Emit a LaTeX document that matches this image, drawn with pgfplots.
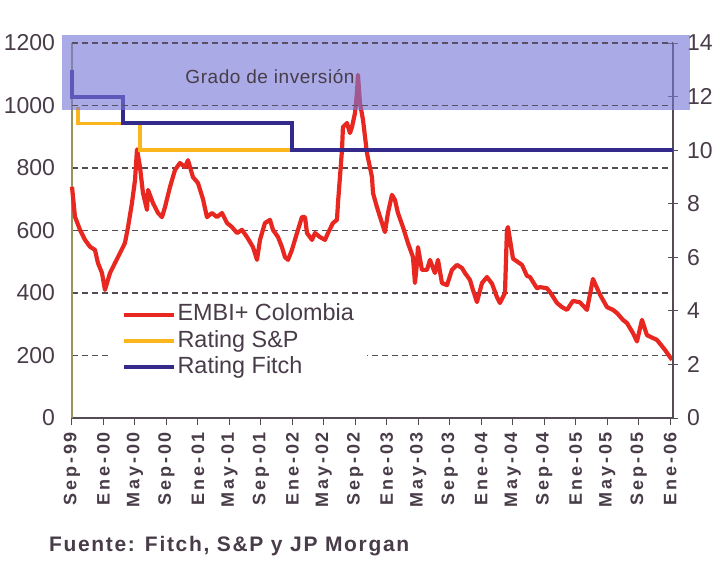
\documentclass[border=0pt]{standalone}
\usepackage{pgfplots}
\pgfplotsset{compat=1.18}
\usepackage{fontspec}
\setmainfont{Liberation Sans}
\definecolor{embired}{RGB}{232,40,32}
\definecolor{spgold}{RGB}{250,182,28}
\definecolor{fitchblue}{RGB}{52,42,140}
\definecolor{bandblue}{RGB}{118,118,215}
\definecolor{txt}{RGB}{72,60,72}
\definecolor{gridc}{RGB}{85,75,85}
\definecolor{axolive}{RGB}{150,150,90}

\begin{document}
\begin{tikzpicture}
\begin{axis}[
  scale only axis, width=300.5pt, height=187.5pt,
  xmin=0, xmax=76.37, ymin=0, ymax=1200,
  axis x line*=bottom, axis y line*=left,
  x axis line style={draw=gridc, line width=0.6pt},
  y axis line style={draw=axolive, line width=0.6pt},
  xtick={0,4,...,76},
  xticklabels={Sep-99,Ene-00,May-00,Sep-00,Ene-01,May-01,Sep-01,Ene-02,May-02,Sep-02,Ene-03,May-03,Sep-03,Ene-04,May-04,Sep-04,Ene-05,May-05,Sep-05,Ene-06},
  xtick align=outside,
  x tick style={draw=gridc, line width=0.5pt},
  major tick length=3.5pt,
  xticklabel style={rotate=90, anchor=east, text=txt, font=\fontsize{9}{9}\selectfont\bfseries\addfontfeature{LetterSpace=16}},
  ytick={0,200,...,1200},
  y tick style={draw=none},
  yticklabel style={font=\fontsize{11.5}{12}\selectfont, text=txt, xshift=-5pt},
  ymajorgrids,
  major grid style={draw=gridc, line width=0.6pt, dash pattern=on 3pt off 2pt},
  /pgf/number format/assume math mode=true,
  /pgf/number format/1000 sep={},
  clip=false,
  legend cell align=left,
  legend style={draw=none, fill=white, at={(axis cs:4.83,384)}, anchor=north west,
    font=\fontsize{11.7}{13}\selectfont, text=txt, inner xsep=6pt, inner ysep=2pt,
    nodes={inner sep=0.6pt, text height=8.5pt, text depth=2.5pt}, row sep=1pt},
  legend image code/.code={\draw[#1, line width=2pt] (0pt,0pt) -- (25pt,0pt);},
]
\addplot[embired, line width=2.1pt, line join=round] coordinates {
(0,740) (0.38,644) (1.02,602) (1.65,570) (2.29,548) (2.92,538) (3.30,496) (3.81,464)
(4.19,410) (4.83,464) (5.46,496) (6.10,528) (6.73,560) (7.12,611) (7.62,688) (8.01,762)
(8.26,860) (8.64,803) (9.02,720) (9.53,666) (9.66,730) (10.29,688) (10.93,656) (11.44,643)
(11.82,675) (12.45,739) (13.09,794) (13.72,816) (14.36,803) (14.74,825) (15.37,771) (16.01,752)
(16.65,700) (17.15,643) (17.79,656) (18.42,643) (19.06,656) (19.70,624) (20.33,611) (20.97,592)
(21.60,602) (22.24,579) (22.62,563) (23.00,547) (23.51,506) (23.89,570) (24.52,624) (25.16,634)
(25.54,602) (26.18,579) (26.68,547) (27.06,515) (27.45,506) (27.95,538) (28.59,592) (29.22,643)
(29.61,643) (29.86,592) (30.50,570) (30.88,592) (31.51,579) (32.15,570) (32.53,592) (33.16,624)
(33.67,634) (33.80,688) (34.05,771) (34.31,858) (34.43,931) (34.94,944) (35.32,912) (35.58,931)
(35.96,976) (36.21,1040) (36.34,1098) (36.59,1008) (36.98,954) (37.48,848) (38.12,771) (38.25,720)
(38.75,675) (39.39,624) (39.77,595) (40.15,656) (40.66,714) (41.04,698) (41.42,656) (42.06,611)
(42.69,560) (43.33,515) (43.58,432) (43.84,496) (43.96,547) (44.47,474) (45.11,474) (45.49,506)
(46.12,464) (46.51,506) (47.01,432) (47.65,425) (48.28,474) (48.92,490) (49.56,480) (49.94,464)
(50.57,442) (50.95,410) (51.46,371) (52.10,432) (52.73,451) (53.37,430) (54.00,387) (54.38,368)
(55.02,400) (55.27,602) (55.40,611) (56.04,510) (57.18,490) (57.81,455) (58.20,451) (59.09,415)
(59.47,419) (60.36,415) (60.74,403) (61.63,368) (62.26,355) (62.90,346) (63.66,375) (64.55,370)
(65.44,346) (66.20,445) (67.09,395) (67.98,355) (68.74,346) (69.25,336) (70.01,314) (70.52,304)
(71.28,272) (71.79,245) (72.43,314) (73.06,265) (74.33,250) (75.35,218) (76.24,186)
};
\addlegendentry{EMBI+ Colombia}
\addlegendimage{spgold}
\addlegendentry{Rating S\&P}
\addlegendimage{fitchblue}
\addlegendentry{Rating Fitch}
\node[anchor=base west, text=txt, font=\fontsize{10.5}{11}\selectfont\bfseries\addfontfeature{LetterSpace=8}] at (rel axis cs:-0.0499,-0.3547) {Fuente: Fitch, S\&P y JP Morgan};
\coordinate (bbBL) at (rel axis cs:-0.1198,-0.384);
\coordinate (bbTR) at (rel axis cs:1.0699,1.1147);
\end{axis}
\begin{axis}[
  scale only axis, width=300.5pt, height=187.5pt,
  xmin=0, xmax=76.37, ymin=0, ymax=14,
  axis y line*=right, axis x line=none,
  y axis line style={draw=gridc, line width=0.6pt},
  ytick={0,2,...,14},
  ytick align=center,
  y tick style={draw=gridc, line width=0.5pt},
  major tick length=5pt,
  yticklabel style={font=\fontsize{11.5}{12}\selectfont, text=txt, xshift=1pt},
  /pgf/number format/assume math mode=true,
  clip=false,
]
\addplot[spgold, line width=1.8pt] coordinates {(0.76,11.6) (0.76,11) (8.64,11) (8.64,10) (76.37,10)};
\addplot[fitchblue, line width=2pt] coordinates {(0,13) (0,12) (6.5,12) (6.5,11) (27.95,11) (27.95,10) (76.37,10)};
\fill[bandblue, fill opacity=0.62] (axis cs:-1.27,11.5) rectangle (axis cs:78.5,14.3);
\draw[gridc, opacity=0.8, line width=0.6pt, dash pattern=on 3pt off 2pt] (axis cs:0,11.667) -- (axis cs:76.37,11.667);
\draw[gridc, opacity=0.8, line width=0.6pt, dash pattern=on 3pt off 2pt] (axis cs:0,14) -- (axis cs:76.37,14);
\node[text=txt, font=\fontsize{9.5}{10}\selectfont\addfontfeature{LetterSpace=3}] at (axis cs:25.16,12.73) {Grado de inversión};
\end{axis}
\pgfresetboundingbox
\path (bbBL) rectangle (bbTR);
\end{tikzpicture}
\end{document}
